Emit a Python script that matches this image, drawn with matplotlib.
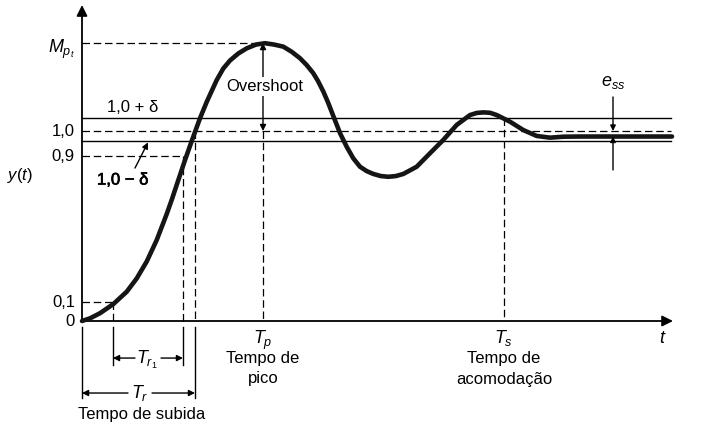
import matplotlib
matplotlib.use("Agg")
import matplotlib.pyplot as plt
import matplotlib.patheffects as pe

plt.rcParams['font.family'] = ['Liberation Sans', 'DejaVu Sans']
plt.rcParams['mathtext.fontset'] = 'custom'
plt.rcParams['mathtext.rm'] = 'Liberation Sans'
plt.rcParams['mathtext.it'] = 'Liberation Sans:italic'
plt.rcParams['mathtext.bf'] = 'Liberation Sans:bold'

# ---- data (schematic step response) ----
t_curve = [0.000, 0.080, 0.180, 0.313, 0.447, 0.547, 0.647, 0.747, 0.847, 0.900,
           0.957, 1.030, 1.097, 1.137, 1.180, 1.247, 1.347, 1.413, 1.480, 1.563,
           1.647, 1.740, 1.830, 1.920, 2.013, 2.097, 2.180, 2.247, 2.313, 2.360,
           2.413, 2.463, 2.513, 2.580, 2.647, 2.713, 2.780, 2.847, 2.913, 2.987,
           3.063, 3.140, 3.213, 3.347, 3.480, 3.613, 3.747, 3.880, 3.947, 4.013,
           4.080, 4.147, 4.280, 4.413, 4.547, 4.680, 4.813, 4.980, 5.900]
y_curve = [0.000, 0.014, 0.041, 0.089, 0.154, 0.224, 0.313, 0.426, 0.563, 0.642,
           0.732, 0.847, 0.947, 1.005, 1.067, 1.153, 1.268, 1.329, 1.371, 1.408,
           1.435, 1.455, 1.462, 1.455, 1.444, 1.417, 1.383, 1.347, 1.304, 1.263,
           1.208, 1.147, 1.079, 0.989, 0.917, 0.856, 0.812, 0.789, 0.774, 0.763,
           0.759, 0.763, 0.774, 0.812, 0.883, 0.953, 1.032, 1.084, 1.095, 1.098,
           1.096, 1.084, 1.049, 1.005, 0.974, 0.965, 0.970, 0.971, 0.971]

Y_MP = 1.463
Y_UP = 1.068
Y_ONE = 1.0
Y_LO = 0.947
Y_09 = 0.866
Y_01 = 0.1
Y_SS = 0.971

T_01 = 0.31
T_09 = 1.01
T_R = 1.13
T_P = 1.81
T_S = 4.22
T_END = 5.91
T_ESS = 5.31

ytick_vals = [0, Y_01, Y_09, Y_ONE]
ytick_labels = ['0', '0,1', '0,9', '1,0']

fig = plt.figure(figsize=(7.12, 4.37), dpi=100)
ax = fig.add_axes([0, 0, 1, 1])
ax.set_xlim(-0.82, 6.30)
ax.set_ylim(-0.6105, 1.6895)
ax.axis('off')

K = 'black'
FS = 12
FM = 13
dash = (0, (6, 3))
lwd = 0.9

# axes with arrows
ax.annotate('', xy=(0, 1.663), xytext=(0, 0),
            arrowprops=dict(arrowstyle='-|>', lw=1.3, color=K, mutation_scale=16, shrinkA=0, shrinkB=0))
ax.annotate('', xy=(T_END, 0), xytext=(0, 0),
            arrowprops=dict(arrowstyle='-|>', lw=1.3, color=K, mutation_scale=16, shrinkA=0, shrinkB=0))

# horizontal reference lines
ax.plot([0, T_END - 0.02], [Y_UP, Y_UP], color=K, lw=1.0)
ax.plot([0, T_END - 0.02], [Y_LO, Y_LO], color=K, lw=1.0)
ax.plot([0, T_END - 0.02], [Y_ONE, Y_ONE], color=K, lw=lwd, ls=dash)
ax.plot([0, T_P], [Y_MP, Y_MP], color=K, lw=lwd, ls=dash)
ax.plot([0, T_09], [Y_09, Y_09], color=K, lw=lwd, ls=dash)
ax.plot([0, T_01], [Y_01, Y_01], color=K, lw=lwd, ls=dash)

# vertical dashed lines
ax.plot([T_01, T_01], [Y_01, 0], color=K, lw=lwd, ls=dash)
ax.plot([T_09, T_09], [Y_09, 0], color=K, lw=lwd, ls=dash)
ax.plot([T_R, T_R], [Y_ONE, 0], color=K, lw=lwd, ls=dash)
ax.plot([T_P, T_P], [Y_ONE, 0], color=K, lw=lwd, ls=dash)
ax.plot([T_S, T_S], [Y_UP, 0], color=K, lw=lwd, ls=dash)

# response curve
ax.plot(t_curve, y_curve, color='#151515', lw=3.3, solid_capstyle='round',
        solid_joinstyle='round', zorder=5)

# ticks below axis (rise time brackets)
ax.plot([0, 0], [-0.032, -0.405], color=K, lw=1.0)
ax.plot([T_01, T_01], [-0.032, -0.232], color=K, lw=1.0)
ax.plot([T_09, T_09], [-0.032, -0.232], color=K, lw=1.0)
ax.plot([T_R, T_R], [-0.032, -0.405], color=K, lw=1.0)

arw = dict(arrowstyle='-|>', lw=1.0, color=K, mutation_scale=9, shrinkA=0, shrinkB=0)
y_tr1 = -0.195
y_tr = -0.379
c1 = (T_01 + T_09) / 2
ax.annotate('', xy=(T_01, y_tr1), xytext=(c1 - 0.13, y_tr1), arrowprops=arw)
ax.annotate('', xy=(T_09, y_tr1), xytext=(c1 + 0.13, y_tr1), arrowprops=arw)
ax.text(c1 - 0.01, y_tr1 - 0.01, r'$T_{r_1}$', fontsize=FM, ha='center', va='center')
c2 = 0.58
ax.annotate('', xy=(0, y_tr), xytext=(c2 - 0.12, y_tr), arrowprops=arw)
ax.annotate('', xy=(T_R, y_tr), xytext=(c2 + 0.12, y_tr), arrowprops=arw)
ax.text(c2, y_tr, r'$T_r$', fontsize=FM, ha='center', va='center')
ax.text(0.60, -0.49, 'Tempo de subida', fontsize=FS, ha='center', va='center')

# Tp / Ts labels
ax.text(T_P, -0.10, r'$T_p$', fontsize=FM, ha='center', va='center')
ax.text(T_P, -0.195, 'Tempo de', fontsize=FS, ha='center', va='center')
ax.text(T_P, -0.305, 'pico', fontsize=FS, ha='center', va='center')
ax.text(T_S, -0.09, r'$T_s$', fontsize=FM, ha='center', va='center')
ax.text(T_S, -0.195, 'Tempo de', fontsize=FS, ha='center', va='center')
ax.text(T_S, -0.31, 'acomodação', fontsize=FS, ha='center', va='center')
ax.text(5.81, -0.09, r'$t$', fontsize=FM, ha='center', va='center')

# y tick labels
for v, lab in zip(ytick_vals, ytick_labels):
    ax.text(-0.07, v, lab, fontsize=FS, ha='right', va='center')
ax.text(-0.07, 1.41, r'$M_{p_t}$', fontsize=FM, ha='right', va='baseline')
ax.text(-0.62, 0.768, r'$y(t)$', fontsize=FS, ha='center', va='center')

# delta labels
ax.text(0.25, 1.126, '1,0 + δ', fontsize=FS, ha='left', va='center')
ax.text(0.15, 0.742, '1,0 − δ', fontsize=FS, ha='left', va='center',
        path_effects=[pe.withStroke(linewidth=0.5, foreground='black')])
ax.annotate('', xy=(0.66, 0.940), xytext=(0.53, 0.805),
            arrowprops=dict(arrowstyle='-|>', lw=1.0, color=K, mutation_scale=9, shrinkA=0, shrinkB=0))

# overshoot
ax.annotate('', xy=(T_P, Y_MP), xytext=(T_P, Y_ONE),
            arrowprops=dict(arrowstyle='<|-|>', lw=1.0, color=K, mutation_scale=9, shrinkA=0, shrinkB=0))
ax.text(T_P + 0.02, 1.232, 'Overshoot', fontsize=FS, ha='center', va='center',
        bbox=dict(fc='white', ec='none', pad=1.5), zorder=6)

# steady-state error
ax.annotate('', xy=(T_ESS, Y_ONE), xytext=(T_ESS, 1.179),
            arrowprops=dict(arrowstyle='-|>', lw=1.0, color=K, mutation_scale=8, shrinkA=0, shrinkB=0))
ax.annotate('', xy=(T_ESS, Y_SS), xytext=(T_ESS, 0.795),
            arrowprops=dict(arrowstyle='-|>', lw=1.0, color=K, mutation_scale=8, shrinkA=0, shrinkB=0), zorder=7)
ax.text(T_ESS, 1.253, r'$e_{ss}$', fontsize=FM, ha='center', va='center')

fig.savefig('out.png', dpi=100)
